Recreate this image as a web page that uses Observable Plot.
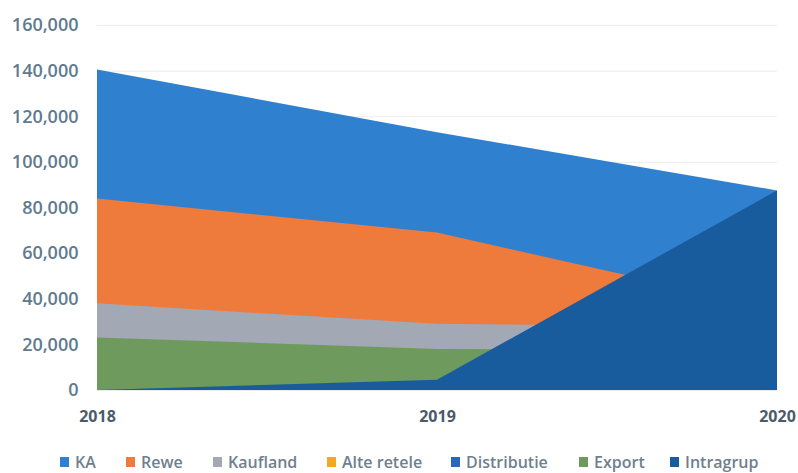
<!DOCTYPE html>
<html>
<head>
<meta charset="utf-8">
<script src="https://cdn.jsdelivr.net/npm/d3@7"></script>
<script src="https://cdn.jsdelivr.net/npm/@observablehq/plot@0.6"></script>
<style>
  html, body { margin: 0; padding: 0; background: #fff; }
  #wrap { position: relative; width: 798px; height: 473px; overflow: hidden; }
  #legend { position: absolute; left: 0; top: 451px; width: 798px; height: 22px; font-family: "Open Sans", sans-serif; font-size: 16px; font-weight: 600; color: #6f7f8e; }
  .item { position: absolute; top: 0; display: flex; align-items: center; white-space: nowrap; }
  .sw { width: 9px; height: 10px; margin-right: 6px; display: inline-block; }
</style>
</head>
<body>
<div id="wrap"><div id="chart"></div><div id="legend"></div></div>
<script>
const years = [2018, 2019, 2020];
const seriesNames = ["KA", "Rewe", "Kaufland", "Alte retele", "Distributie", "Export", "Intragrup"];
const seriesColors = ["#2f80cf", "#ee7a3c", "#a2a8b4", "#f5a62a", "#2a69b8", "#6e9a5e", "#185c9e"];
const KA = [140500, 113000, 87500];
const Rewe = [84000, 69000, 35500];
const Kaufland = [38000, 29000, 27500];
const AlteRetele = [0, 0, 0];
const Distributie = [0, 0, 0];
const Export = [23000, 18000, 17500];
const Intragrup = [0, 4500, 87500];
const yTicks = [0, 20000, 40000, 60000, 80000, 100000, 120000, 140000, 160000];
const legendX = [60, 126, 213, 327, 451, 579, 670];

const seriesValues = [KA, Rewe, Kaufland, AlteRetele, Distributie, Export, Intragrup];
const rows = [];
seriesNames.forEach((name, i) => {
  years.forEach((yr, j) => rows.push({series: name, year: yr, value: seriesValues[i][j], order: i}));
});

const areaMarks = seriesNames.map((name, i) =>
  Plot.areaY(rows.filter(r => r.series === name), {
    x: "year", y1: 0, y2: "value", fill: seriesColors[i], fillOpacity: 1
  })
);

const chart = Plot.plot({
  width: 798,
  height: 440,
  marginLeft: 97,
  marginRight: 21,
  marginTop: 25,
  marginBottom: 50,
  style: {background: "transparent"},
  x: {domain: [2018, 2020], ticks: years, tickFormat: d => String(d)},
  y: {domain: [0, 160000], ticks: yTicks, tickFormat: d3.format(",")},
  marks: [
    Plot.ruleY(yTicks, {stroke: "#ececec", strokeWidth: 1}),
    ...areaMarks,
    Plot.axisY({ticks: yTicks, tickFormat: d3.format(","), tickSize: 0, tickPadding: 19, label: null,
      fontSize: 18, fontWeight: 600, fill: "#5f7a8e", fontFamily: "Open Sans, sans-serif"}),
    Plot.axisX({ticks: years, tickFormat: d => String(d), tickSize: 0, tickPadding: 20, label: null,
      fontSize: 16, fontWeight: "bold", fill: "#4b5a68", fontFamily: "Open Sans, sans-serif"})
  ]
});
document.getElementById("chart").appendChild(chart);

const legend = document.getElementById("legend");
seriesNames.forEach((name, i) => {
  const it = document.createElement("div");
  it.className = "item";
  it.style.left = legendX[i] + "px";
  const sw = document.createElement("span");
  sw.className = "sw";
  sw.style.background = seriesColors[i];
  it.appendChild(sw);
  it.appendChild(document.createTextNode(name));
  legend.appendChild(it);
});
</script>
</body>
</html>
